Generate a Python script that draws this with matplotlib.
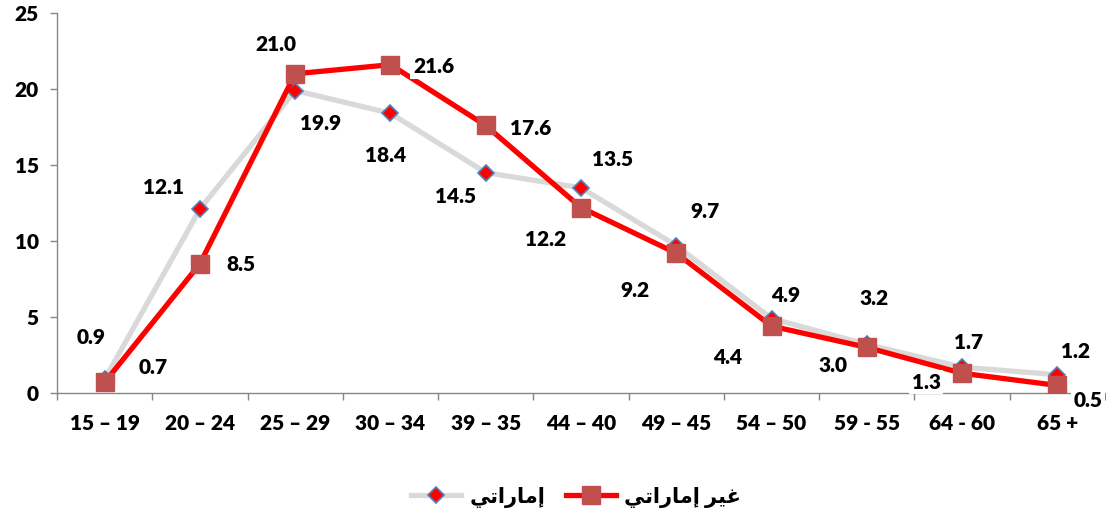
import matplotlib.pyplot as plt
import numpy as np

# datos
categorias = ['15 – 19', '20 – 24', '25 – 29', '30 – 34', '39 – 35', '44 – 40',
              '49 – 45', '54 – 50', '59 - 55', '64 - 60', '65 +']
emiratis = [0.9, 12.1, 19.9, 18.4, 14.5, 13.5, 9.7, 4.9, 3.2, 1.7, 1.2]
no_emiratis = [0.7, 8.5, 21.0, 21.6, 17.6, 12.2, 9.2, 4.4, 3.0, 1.3, 0.5]

# "إماراتي" / "غير إماراتي" escritas en formas de presentación (orden visual)
etiqueta_emiratis = '\uFEF2\uFE97\uFE8D\uFEAD\uFE8E\uFEE3\uFE87'
etiqueta_no_emiratis = '\uFEF2\uFE97\uFE8D\uFEAD\uFE8E\uFEE3\uFE87 \uFEAE\uFEF4\uFECF'

# desplazamientos de las etiquetas (pixeles)
desp_emiratis = [(-14, 42), (-36, 22), (25, -33), (-5, -42), (-30, -24), (32, 28),
                 (29, 34), (14, 23), (7, 46), (6, 25), (18, 23)]
desp_no_emiratis = [(49, 15), (41, -1), (-19, 29), (43, -2), (45, -3), (-35, -32),
                    (-41, -37), (-44, -31), (-34, -18), (-36, -9), (31, -15)]

fuente = ['Lato', 'DejaVu Sans']
peso = 'heavy'
plt.rcParams['font.family'] = fuente
plt.rcParams['font.weight'] = peso

fig = plt.figure(figsize=(11.06, 5.18), dpi=100)
ax = fig.add_axes([57 / 1106, 1 - 393 / 518, 1048 / 1106, 380 / 518])

x = np.arange(len(categorias))
ax.plot(x, emiratis, color='#D9D9D9', linewidth=3.8, marker='D', markersize=8.5,
        markerfacecolor='#FF0000', markeredgecolor='#4F81BD', markeredgewidth=1.2,
        label=etiqueta_emiratis, zorder=3)
ax.plot(x, no_emiratis, color='#FF0000', linewidth=3.8, marker='s', markersize=13.5,
        markerfacecolor='#C0504D', markeredgecolor='#C0504D',
        label=etiqueta_no_emiratis, zorder=4)

caja = dict(boxstyle='square,pad=0.12', facecolor='white', edgecolor='none')
for xi, v, d in zip(x, emiratis, desp_emiratis):
    ax.annotate(f'{v:.1f}', (xi, v), xytext=d, textcoords='offset pixels',
                ha='center', va='center', fontsize=15, fontweight=peso,
                bbox=caja, zorder=6, annotation_clip=False)
for xi, v, d in zip(x, no_emiratis, desp_no_emiratis):
    ax.annotate(f'{v:.1f}', (xi, v), xytext=d, textcoords='offset pixels',
                ha='center', va='center', fontsize=15, fontweight=peso,
                bbox=caja, zorder=6, annotation_clip=False)

ax.set_xlim(-0.5, len(categorias) - 0.5)
ax.set_ylim(0, 25)
ax.set_yticks([0, 5, 10, 15, 20, 25])
ax.set_xticks(x)
ax.set_xticklabels(categorias)
ax.set_xticks(np.arange(-0.5, len(categorias) - 0.4, 1), minor=True)
ax.tick_params(axis='x', which='major', length=0, pad=15, labelsize=15)
ax.tick_params(axis='x', which='minor', length=5, width=1, color='#868686', direction='out')
ax.tick_params(axis='y', length=5, width=1, color='#868686', pad=8, labelsize=15)

for lado in ['top', 'right']:
    ax.spines[lado].set_visible(False)
for lado in ['left', 'bottom']:
    ax.spines[lado].set_color('#868686')
    ax.spines[lado].set_linewidth(1)

ley = fig.legend(loc='center', bbox_to_anchor=(576 / 1106, 1 - 497 / 518), ncol=2,
                 frameon=False, handlelength=2.4, columnspacing=1.0, handletextpad=0.4,
                 prop={'family': fuente, 'weight': 'bold', 'size': 15})

fig.savefig('out.png', dpi=100)
